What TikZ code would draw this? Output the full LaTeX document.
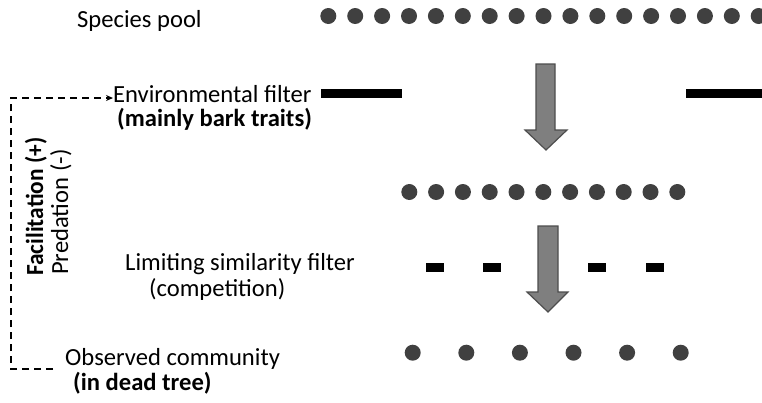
\documentclass[tikz,border=0pt]{standalone}
\usepackage{fontspec}
\setmainfont{Carlito}
\usetikzlibrary{arrows.meta}
\definecolor{dotgray}{HTML}{404040}
\definecolor{arrowfill}{HTML}{7F7F7F}
\definecolor{arrowline}{HTML}{4D4D4D}
\tikzset{
  lbl/.style={anchor=base west, inner sep=0pt, font=\fontsize{24.6}{29}\selectfont},
  blbl/.style={lbl, font=\fontsize{24.6}{29}\selectfont\bfseries},
  dot/.style={circle, fill=dotgray, inner sep=0pt, minimum size=16pt},
  bar/.style={fill=black, draw=none},
  blockarrow/.style={fill=arrowfill, draw=arrowline, line width=1.2pt, line join=miter},
  feedback/.style={line width=1.5pt, dash pattern=on 7pt off 5pt, -{Stealth[length=7pt,width=6pt]}}
}
\begin{document}
\begin{tikzpicture}[x=1pt,y=-1pt]
\useasboundingbox (0,0) rectangle (762,402);
\begin{scope}
\clip (0,0) rectangle (762,402);
% texts
\node[lbl] (pool) at (77,27) {Species pool};
\node[lbl] (env) at (113,102) {Environmental filter};
\node[blbl] (bark) at (117,126) {(mainly bark traits)};
\node[lbl] (lim) at (125,270) {Limiting similarity filter};
\node[lbl] (comp) at (149,296) {(competition)};
\node[lbl] (obs) at (65,365) {Observed community};
\node[blbl] (dead) at (73,390) {(in dead tree)};
\node[blbl, rotate=90, xscale=0.95] (fac) at (43,276) {Facilitation (+)};
\node[lbl, rotate=90] (pred) at (68,275) {Predation (-)};
% dots
\foreach \i in {0,...,16} \node[dot] (p\i) at (328.3+26.9*\i,16) {};
\foreach \i in {0,...,10} \node[dot] (m\i) at (409.3+26.8*\i,192) {};
\foreach \i in {0,...,5} \node[dot] (b\i) at (412.7+53.6*\i,352.7) {};
% environmental filter bars
\fill[bar] (321,89) rectangle (402,98);
\fill[bar] (686,89) rectangle (770,98);
% limiting similarity dashes
\foreach \c in {435,492,597,655} \fill[bar] (\c-9,263.3) rectangle (\c+9,272.3);
% block arrows
\draw[blockarrow] (536,64) -- (555,64) -- (555,130) -- (567,130) -- (546,150) -- (525,130) -- (536,130) -- cycle;
\draw[blockarrow] (538,226) -- (558,226) -- (558,292) -- (568,292) -- (548,312) -- (527,292) -- (538,292) -- cycle;
% feedback dashed connector
\coordinate (fbstart) at (53,369);
\draw[feedback] (fbstart) -- (11,369) -- (11,98) -- (env.west |- 0,98);
\end{scope}
\end{tikzpicture}
\end{document}
